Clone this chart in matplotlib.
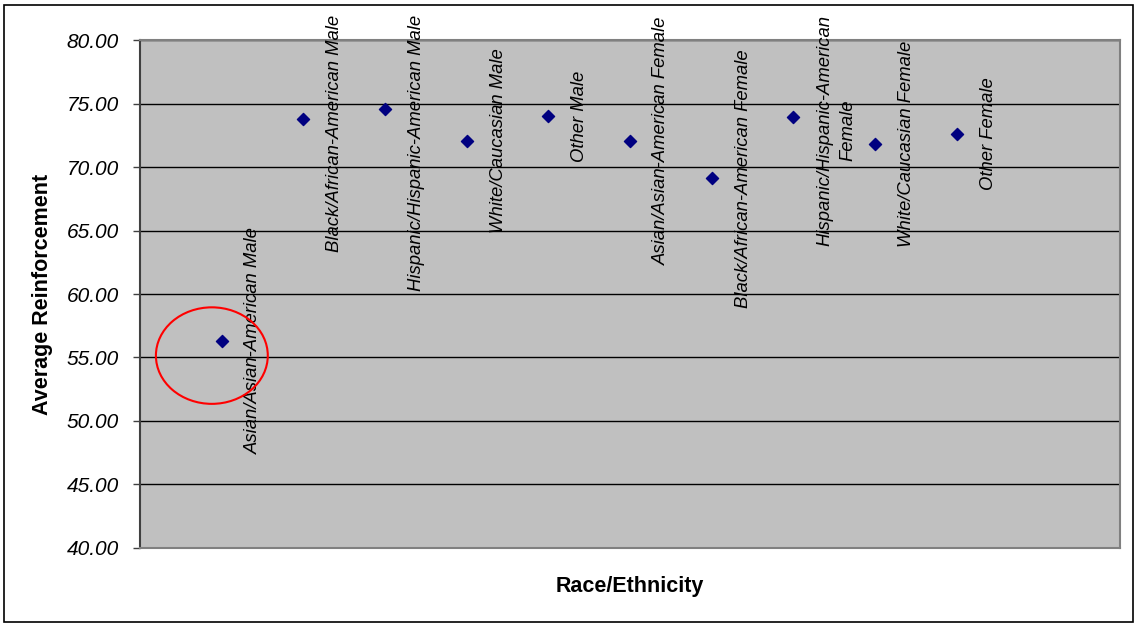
# Average reinforcement by race/ethnicity and gender.
import matplotlib
matplotlib.use('Agg')
import matplotlib.pyplot as plt
from matplotlib.patches import Ellipse, Rectangle

plt.rcParams['font.family'] = ['Liberation Sans', 'DejaVu Sans']

# Data.
groups = ['Asian/Asian-American Male', 'Black/African-American Male',
          'Hispanic/Hispanic-American Male', 'White/Caucasian Male', 'Other Male',
          'Asian/Asian-American Female', 'Black/African-American Female',
          'Hispanic/Hispanic-American\nFemale', 'White/Caucasian Female', 'Other Female']
averages = [56.3, 73.8, 74.6, 72.05, 74.0, 72.05, 69.1, 73.9, 71.8, 72.6]
y_ticks = [40, 45, 50, 55, 60, 65, 70, 75, 80]

fig = plt.figure(figsize=(11.39, 6.27), dpi=100)
ax = fig.add_axes([0.1229, 0.126, 0.8604, 0.8102])
ax.set_facecolor('#c0c0c0')

positions = list(range(1, len(groups) + 1))
ax.scatter(positions, averages, marker='D', s=38, color='#000080', zorder=3)

ax.set_xlim(0, 12)
ax.set_ylim(40, 80)
ax.set_yticks(y_ticks)
ax.set_yticklabels(['%.2f' % v for v in y_ticks], fontsize=15, style='italic')
ax.set_xticks([])
ax.yaxis.grid(True, color='black', linewidth=1)
ax.set_axisbelow(True)
ax.tick_params(axis='y', length=5, width=1, color='#404040', pad=10)
for side in ['top', 'right', 'bottom']:
    ax.spines[side].set_color('#808080')
    ax.spines[side].set_linewidth(1.5)
ax.spines['left'].set_color('#404040')
ax.spines['left'].set_linewidth(1.5)

ax.set_ylabel('Average Reinforcement', fontsize=15.5, fontweight='bold', labelpad=10)
ax.set_xlabel('Race/Ethnicity', fontsize=15.5, fontweight='bold', labelpad=20)

# Data labels: rotated, to the right of each point, kept inside the top of the figure.
labels = []
for x, y, name in zip(positions, averages, groups):
    t = ax.annotate(name, (x, y), xytext=(16.5, 0), textcoords='offset points',
                    rotation=90, ha='left', va='center', fontsize=13.3,
                    style='italic', multialignment='center', linespacing=1.5,
                    zorder=4)
    labels.append(t)

fig.canvas.draw()
renderer = fig.canvas.get_renderer()
top_limit = fig.bbox.height - 15
for t in labels:
    bb = t.get_window_extent(renderer)
    if bb.y1 > top_limit:
        shift = (bb.y1 - top_limit) * 72.0 / fig.dpi
        ox, oy = t.xyann
        t.xyann = (ox, oy - shift)

# Red ellipse highlighting the first group.
ax.add_patch(Ellipse((0.88, 55.15), 1.37, 7.6, fill=False, edgecolor='red',
                     linewidth=1.5, zorder=5))

# Chart border.
fig.patches.append(Rectangle((4 / 1139, 5 / 627), 1129 / 1139, 617 / 627,
                             transform=fig.transFigure, fill=False,
                             edgecolor='black', linewidth=1.2))

plt.savefig('out.png', dpi=100)
